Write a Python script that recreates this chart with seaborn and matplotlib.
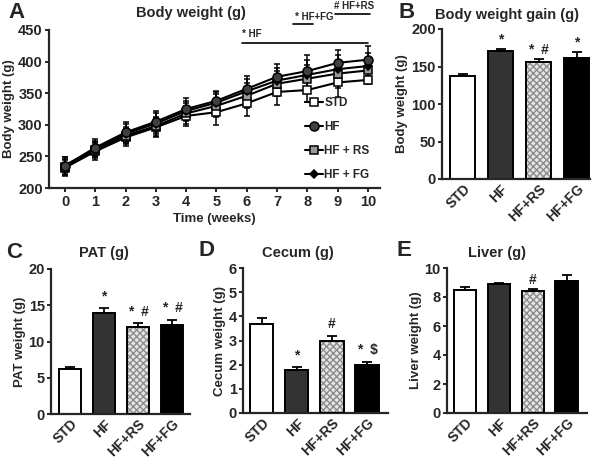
import numpy as np
import pandas as pd
import seaborn as sns
import matplotlib
matplotlib.use("Agg")
import matplotlib.pyplot as plt
from matplotlib.patches import Rectangle
from matplotlib.lines import Line2D

# ---------------- data ----------------
weeks = list(range(11))
groups = ["STD", "HF", "HF + RS", "HF + FG"]
std_w = [232, 258, 280, 296, 314, 320, 334, 352, 355, 367, 371]
hf_w = [235, 264, 288, 305, 325, 338, 357, 376, 385, 398, 403]
rs_w = [233, 260, 283, 298, 318, 330, 346, 365, 373, 381, 386]
fg_w = [236, 262, 286, 302, 322, 335, 353, 370, 379, 388, 393]
std_e = [13, 13, 14, 15, 16, 20, 20, 21, 19, 23, 6]
hf_e = [14, 14, 16, 17, 17, 16, 21, 20, 26, 21, 21]
rs_e = [13, 13, 14, 15, 16, 18, 20, 20, 22, 22, 18]
fg_e = [13, 13, 15, 16, 16, 17, 20, 20, 23, 22, 20]

bar_cats = ["STD", "HF", "HF+RS", "HF+FG"]
gain_vals = [137, 171, 156, 162]
gain_err = [3, 3, 4, 8]
gain_marks = ["", "*", "*  #", "*"]
pat_vals = [6.2, 14.0, 12.0, 12.3]
pat_err = [0.3, 0.6, 0.5, 0.7]
pat_marks = ["", "*", "*  #", "*  #"]
cecum_vals = [3.7, 1.8, 3.0, 2.0]
cecum_err = [0.25, 0.1, 0.2, 0.12]
cecum_marks = ["", "*", "#", "*  $"]
liver_vals = [8.5, 8.9, 8.4, 9.1]
liver_err = [0.2, 0.1, 0.12, 0.45]
liver_marks = ["", "", "#", ""]

# ---------------- style ----------------
sns.set_style("ticks")
plt.rcParams["font.family"] = ["Liberation Sans", "DejaVu Sans"]
plt.rcParams["font.weight"] = "bold"
plt.rcParams["axes.labelweight"] = "bold"
plt.rcParams["axes.titleweight"] = "bold"
plt.rcParams["axes.linewidth"] = 1.6
plt.rcParams["xtick.major.width"] = 1.4
plt.rcParams["ytick.major.width"] = 1.4
plt.rcParams["xtick.major.size"] = 3
plt.rcParams["ytick.major.size"] = 3
plt.rcParams["xtick.major.pad"] = 2
plt.rcParams["ytick.major.pad"] = 1.5

fig = plt.figure(figsize=(6.0, 4.62), dpi=100)
W, H = 600.0, 462.0


def add_ax(l, r, t, b):
    return fig.add_axes([l / W, 1 - b / H, (r - l) / W, (b - t) / H])


bar_colors = ["white", "#333333", "#e6e6e6", "black"]

# ---------------- panel A ----------------
axA = add_ax(49, 380, 30, 188)
series = [
    (std_w, std_e, "s", "white", 5.5),
    (hf_w, hf_e, "o", "#404040", 6.5),
    (rs_w, rs_e, "s", "#9a9a9a", 5.5),
    (fg_w, fg_e, "D", "black", 4),
]
order = [0, 2, 3, 1]
for i in order:
    vals, errs, mk, fc, ms = series[i]
    df = pd.DataFrame({"week": weeks, "w": vals})
    axA.errorbar(weeks, vals, yerr=errs, fmt="none", ecolor="black",
                 elinewidth=1.1, capsize=2.5, capthick=1.1, zorder=2)
    sns.lineplot(data=df, x="week", y="w", ax=axA, color="black", lw=1.5,
                 marker=mk, markersize=ms, markerfacecolor=fc,
                 markeredgecolor="black", markeredgewidth=1.1, zorder=3)
handles = []
for i in range(4):
    vals, errs, mk, fc, ms = series[i]
    handles.append(Line2D([], [], color="black", lw=1.5, marker=mk,
                          markersize=ms, markerfacecolor=fc,
                          markeredgecolor="black", markeredgewidth=1.1))
axA.legend(handles, groups, loc="lower right", bbox_to_anchor=(0.99, 0.0),
           frameon=False, fontsize=8.5, handlelength=1.5, handletextpad=0.1,
           labelspacing=1.0, borderaxespad=0.2)
axA.set_xlim(-0.53, 10.4)
axA.set_ylim(200, 450)
axA.set_xticks(weeks)
axA.set_yticks([200, 250, 300, 350, 400, 450])
axA.set_xlabel("Time (weeks)", fontsize=9.5, labelpad=3)
axA.set_ylabel("Body weight (g)", fontsize=9.5, labelpad=2)
axA.tick_params(labelsize=10.5)
sns.despine(ax=axA)
# significance bars
axA.plot([5.84, 10.0], [429.4, 429.4], color="black", lw=1.2, clip_on=False)
axA.text(5.84, 436, "* HF", fontsize=7, ha="left", va="bottom")
axA.plot([7.52, 8.18], [459.5, 459.5], color="black", lw=1.2, clip_on=False)
axA.text(7.58, 462, "* HF+FG", fontsize=7, ha="left", va="bottom")
axA.plot([8.91, 10.07], [475.3, 475.3], color="black", lw=1.2, clip_on=False)
axA.text(8.88, 480.5, "# HF+RS", fontsize=7, ha="left", va="bottom")
fig.text(191 / W, 1 - 13 / H, "Body weight (g)", fontsize=10.5, ha="center", va="center")
fig.text(8 / W, 1 - 13 / H, "A", fontsize=16, ha="left", va="center")


# ---------------- bar panels ----------------
def bar_panel(box, vals, errs, marks, ylim, yticks, ylabel, title, title_x,
              title_y, letter, letter_xy, xlim, mark_off):
    ax = add_ax(*box)
    df = pd.DataFrame({"cat": bar_cats, "v": vals})
    sns.barplot(data=df, x="cat", y="v", hue="cat", palette=bar_colors,
                order=bar_cats, hue_order=bar_cats, legend=False,
                edgecolor="black", linewidth=1.4, width=0.66, errorbar=None,
                ax=ax, zorder=2)
    # hatched bar for HF+RS
    p = ax.patches[2]
    p.set_hatch("xxxxx")
    p.set_edgecolor("#8c8c8c")
    p.set_linewidth(0.0)
    ax.add_patch(Rectangle(p.get_xy(), p.get_width(), p.get_height(),
                           fill=False, edgecolor="black", lw=1.4, zorder=3))
    x = np.arange(len(vals))
    ax.errorbar(x, vals, yerr=[np.zeros(len(errs)), errs], fmt="none",
                ecolor="black", elinewidth=1.3, capsize=3.5, capthick=1.3,
                zorder=1)
    for xi, v, e, m in zip(x, vals, errs, marks):
        if m:
            ax.text(xi, v + e + mark_off, m, ha="center", va="bottom",
                    fontsize=10)
    ax.set_xlim(*xlim)
    ax.set_ylim(*ylim)
    ax.set_yticks(yticks)
    ax.set_xlabel("")
    ax.set_ylabel(ylabel, fontsize=9.5, labelpad=2)
    ax.tick_params(axis="y", labelsize=10.5)
    ax.tick_params(axis="x", length=0, labelsize=10, pad=2)
    for lab in ax.get_xticklabels():
        lab.set_rotation(45)
        lab.set_ha("right")
        lab.set_rotation_mode("anchor")
    sns.despine(ax=ax)
    fig.text(title_x / W, 1 - title_y / H, title, fontsize=10.5,
             ha="center", va="center")
    fig.text(letter_xy[0] / W, 1 - letter_xy[1] / H, letter, fontsize=16,
             ha="left", va="center")
    return ax


bar_panel((442, 590, 29, 179), gain_vals, gain_err, gain_marks, (0, 200),
          [0, 50, 100, 150, 200], "Body weight (g)", "Body weight gain (g)",
          507, 15, "B", (398, 13), (-0.55, 3.35), 3)
bar_panel((51, 190, 269, 414), pat_vals, pat_err, pat_marks, (0, 20),
          [0, 5, 10, 15, 20], "PAT weight (g)", "PAT (g)",
          104, 253, "C", (6, 252), (-0.56, 3.53), 0.6)
bar_panel((243, 388, 268, 413), cecum_vals, cecum_err, cecum_marks, (0, 6),
          [0, 1, 2, 3, 4, 5, 6], "Cecum weight (g)", "Cecum (g)",
          298, 253, "D", (198, 250), (-0.54, 3.6), 0.2)
bar_panel((447, 587, 268, 413), liver_vals, liver_err, liver_marks, (0, 10),
          [0, 2, 4, 6, 8, 10], "Liver weight (g)", "Liver (g)",
          497, 253, "E", (396, 250), (-0.53, 3.6), 0.15)

fig.savefig("out.png", dpi=100)
